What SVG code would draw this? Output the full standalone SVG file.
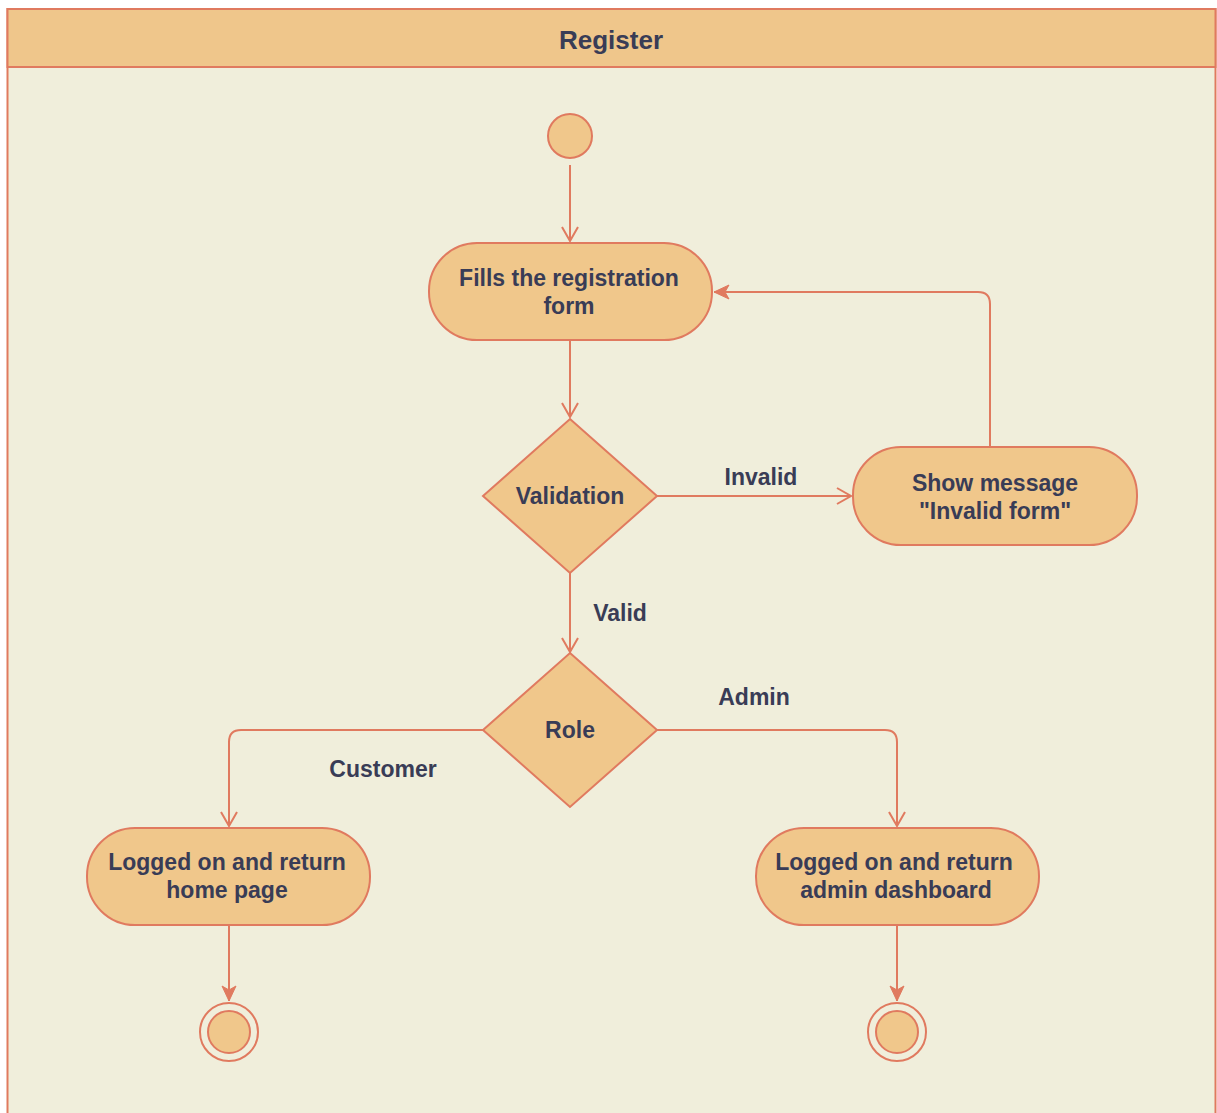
<svg xmlns="http://www.w3.org/2000/svg" width="1217" height="1113" viewBox="0 0 1217 1113">
<defs>
<style>
.node{fill:#F0C78B;stroke:#E07A5F;stroke-width:2}
.txt{font-family:"Liberation Sans",Arial,sans-serif;font-weight:bold;font-size:23px;fill:#393C56;text-anchor:middle}
.edge{fill:none;stroke:#E07A5F;stroke-width:2}
</style>
<marker id="open" viewBox="0 0 20 20" refX="16" refY="10" markerWidth="20" markerHeight="20" markerUnits="userSpaceOnUse" orient="auto">
<path d="M2,2 L16,10 L2,18" fill="none" stroke="#E07A5F" stroke-width="2"/>
</marker>
<marker id="block" viewBox="0 0 20 20" refX="17" refY="10" markerWidth="20" markerHeight="20" markerUnits="userSpaceOnUse" orient="auto">
<path d="M2,3 L17,10 L2,17 L6,10 Z" fill="#E07A5F" stroke="#E07A5F" stroke-width="1"/>
</marker>
</defs>
<rect width="1217" height="1113" fill="#FFFFFF"/>
<g id="swimlane">
<rect x="7.5" y="9" width="1208" height="1120" fill="#F0EEDB" stroke="#E07A5F" stroke-width="2"/>
<rect x="7.5" y="9" width="1208" height="58" fill="#EFC68B" stroke="#E07A5F" stroke-width="2"/>
<text class="txt" x="611" y="49" style="font-size:26px">Register</text>
</g>
<g id="connectors">
<path class="edge" d="M570,165 L570,241" marker-end="url(#open)"/>
<path class="edge" d="M570,340 L570,417" marker-end="url(#open)"/>
<path class="edge" d="M657,496 L851,496" marker-end="url(#open)"/>
<path class="edge" d="M990,447 L990,304 Q990,292 978,292 L714,292" marker-end="url(#block)"/>
<path class="edge" d="M570,573 L570,652" marker-end="url(#open)"/>
<path class="edge" d="M657,730 L885,730 Q897,730 897,742 L897,826" marker-end="url(#open)"/>
<path class="edge" d="M483,730 L241,730 Q229,730 229,742 L229,826" marker-end="url(#open)"/>
<path class="edge" d="M229,925 L229,1001" marker-end="url(#block)"/>
<path class="edge" d="M897,925 L897,1001" marker-end="url(#block)"/>
<text class="txt" x="761" y="485">Invalid</text>
<text class="txt" x="620" y="621">Valid</text>
<text class="txt" x="754" y="705">Admin</text>
<text class="txt" x="383" y="777">Customer</text>
</g>
<g id="start">
<circle class="node" cx="570" cy="136" r="22"/>
</g>
<g id="fills">
<rect class="node" x="429" y="243" width="283" height="97" rx="48" ry="48"/>
<text class="txt" x="569" y="286">Fills the registration</text>
<text class="txt" x="569" y="314">form</text>
</g>
<g id="validation">
<polygon class="node" points="570,419 657,496 570,573 483,496"/>
<text class="txt" x="570" y="504">Validation</text>
</g>
<g id="showmessage">
<rect class="node" x="853" y="447" width="284" height="98" rx="48" ry="48"/>
<text class="txt" x="995" y="491">Show message</text>
<text class="txt" x="995" y="519">"Invalid form"</text>
</g>
<g id="role">
<polygon class="node" points="570,653 657,730 570,807 483,730"/>
<text class="txt" x="570" y="738">Role</text>
</g>
<g id="homepage">
<rect class="node" x="87" y="828" width="283" height="97" rx="48" ry="48"/>
<text class="txt" x="227" y="870">Logged on and return</text>
<text class="txt" x="227" y="898">home page</text>
</g>
<g id="dashboard">
<rect class="node" x="756" y="828" width="283" height="97" rx="48" ry="48"/>
<text class="txt" x="894" y="870">Logged on and return</text>
<text class="txt" x="896" y="898">admin dashboard</text>
</g>
<g id="end1">
<circle cx="229" cy="1032" r="29" fill="none" stroke="#E07A5F" stroke-width="2"/>
<circle class="node" cx="229" cy="1032" r="21"/>
</g>
<g id="end2">
<circle cx="897" cy="1032" r="29" fill="none" stroke="#E07A5F" stroke-width="2"/>
<circle class="node" cx="897" cy="1032" r="21"/>
</g>
</svg>
